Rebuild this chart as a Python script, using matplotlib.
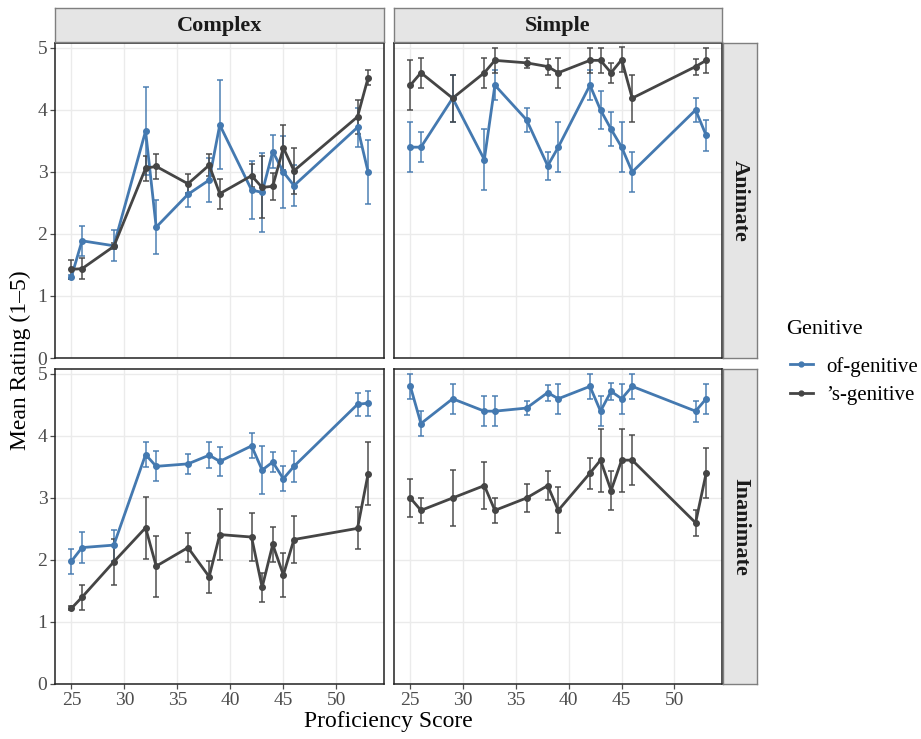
import matplotlib
matplotlib.use("Agg")
import matplotlib.pyplot as plt
from matplotlib.lines import Line2D
import numpy as np

plt.rcParams['font.family'] = ['Liberation Serif', 'DejaVu Serif']

# ---- data ----
scores = [25, 26, 29, 32, 33, 36, 38, 39, 42, 43, 44, 45, 46, 52, 53]
complexity = ["Complex", "Simple"]
animacy = ["Animate", "Inanimate"]
genitives = ["of-genitive", "\u2019s-genitive"]

# Complex / Animate
ca_of_mean = [1.31, 1.89, 1.81, 3.66, 2.11, 2.64, 2.87, 3.76, 2.71, 2.67, 3.33, 3.00, 2.78, 3.72, 3.00]
ca_of_err  = [0.03, 0.24, 0.25, 0.71, 0.44, 0.20, 0.35, 0.72, 0.47, 0.64, 0.27, 0.58, 0.33, 0.31, 0.51]
ca_s_mean  = [1.43, 1.44, 1.80, 3.06, 3.09, 2.81, 3.11, 2.65, 2.94, 2.75, 2.77, 3.39, 3.02, 3.89, 4.52]
ca_s_err   = [0.15, 0.17, 0.05, 0.20, 0.20, 0.15, 0.18, 0.24, 0.19, 0.50, 0.22, 0.36, 0.37, 0.27, 0.12]

# Simple / Animate
sa_of_mean = [3.40, 3.40, 4.19, 3.20, 4.40, 3.84, 3.10, 3.40, 4.40, 4.00, 3.69, 3.40, 3.00, 4.00, 3.59]
sa_of_err  = [0.40, 0.24, 0.38, 0.49, 0.24, 0.19, 0.23, 0.40, 0.24, 0.31, 0.27, 0.40, 0.32, 0.20, 0.25]
sa_s_mean  = [4.40, 4.60, 4.19, 4.60, 4.80, 4.76, 4.70, 4.60, 4.80, 4.80, 4.60, 4.81, 4.19, 4.70, 4.80]
sa_s_err   = [0.40, 0.24, 0.38, 0.24, 0.20, 0.08, 0.13, 0.24, 0.20, 0.20, 0.16, 0.20, 0.38, 0.13, 0.20]

# Complex / Inanimate
ci_of_mean = [1.98, 2.20, 2.24, 3.70, 3.51, 3.55, 3.69, 3.59, 3.84, 3.45, 3.58, 3.31, 3.51, 4.51, 4.53]
ci_of_err  = [0.20, 0.25, 0.25, 0.20, 0.24, 0.16, 0.21, 0.24, 0.20, 0.39, 0.16, 0.20, 0.25, 0.19, 0.20]
ci_s_mean  = [1.22, 1.40, 1.97, 2.52, 1.90, 2.20, 1.73, 2.41, 2.37, 1.56, 2.25, 1.76, 2.33, 2.51, 3.39]
ci_s_err   = [0.03, 0.20, 0.37, 0.50, 0.49, 0.23, 0.26, 0.41, 0.39, 0.23, 0.28, 0.35, 0.38, 0.34, 0.51]

# Simple / Inanimate
si_of_mean = [4.80, 4.20, 4.60, 4.40, 4.40, 4.45, 4.70, 4.60, 4.80, 4.40, 4.72, 4.60, 4.80, 4.40, 4.60]
si_of_err  = [0.20, 0.20, 0.24, 0.24, 0.24, 0.11, 0.13, 0.24, 0.20, 0.24, 0.14, 0.24, 0.20, 0.17, 0.24]
si_s_mean  = [3.00, 2.80, 3.00, 3.20, 2.80, 3.00, 3.20, 2.80, 3.40, 3.61, 3.12, 3.61, 3.61, 2.60, 3.40]
si_s_err   = [0.31, 0.20, 0.45, 0.38, 0.20, 0.22, 0.24, 0.37, 0.25, 0.51, 0.32, 0.51, 0.40, 0.21, 0.40]

x_ticks = [25, 30, 35, 40, 45, 50]
y_ticks = [0, 1, 2, 3, 4, 5]

panels = {
    ("Animate", "Complex"): [(ca_of_mean, ca_of_err), (ca_s_mean, ca_s_err)],
    ("Animate", "Simple"): [(sa_of_mean, sa_of_err), (sa_s_mean, sa_s_err)],
    ("Inanimate", "Complex"): [(ci_of_mean, ci_of_err), (ci_s_mean, ci_s_err)],
    ("Inanimate", "Simple"): [(si_of_mean, si_of_err), (si_s_mean, si_s_err)],
}

colors = ["#4479B0", "#454545"]

W, H = 921, 739
fig = plt.figure(figsize=(W / 100, H / 100), dpi=100)

def rect(x0, y0, x1, y1):
    return [x0 / W, 1 - y1 / H, (x1 - x0) / W, (y1 - y0) / H]

col_x = [(55, 384), (394, 722)]
row_y = [(43, 358), (369, 684)]
strip_top = (8, 42)
strip_right = (723, 757)

tick_color = "#4D4D4D"
grid_color = "#EBEBEB"

for ri, an in enumerate(animacy):
    for ci, cx in enumerate(complexity):
        x0, x1 = col_x[ci]
        y0, y1 = row_y[ri]
        ax = fig.add_axes(rect(x0, y0, x1, y1))
        ax.set_xlim(23.45, 54.5)
        ax.set_ylim(0, 5.08)
        ax.set_xticks(x_ticks)
        ax.set_yticks(y_ticks)
        ax.grid(True, color=grid_color, lw=1.0)
        ax.set_axisbelow(True)
        for sp in ax.spines.values():
            sp.set_color("#222222")
            sp.set_linewidth(1.1)
        ax.tick_params(axis='both', colors=tick_color, length=3.5, width=0.9,
                       labelsize=14, labelcolor=tick_color, pad=2)
        if ci != 0:
            ax.tick_params(axis='y', length=0, labelleft=False)
        if ri != 1:
            ax.tick_params(axis='x', length=0, labelbottom=False)
        for gi, (m, e) in enumerate(panels[(an, cx)]):
            c = colors[gi]
            ax.errorbar(scores, m, yerr=e, fmt='none', ecolor=c, elinewidth=1.3,
                        capsize=2.3, capthick=1.3, alpha=0.8, zorder=2 + gi)
            ax.plot(scores, m, color=c, lw=2.0, zorder=4 + gi)
            ax.plot(scores, m, 'o', color=c, ms=4.0, zorder=6 + gi)

        # top strips
        if ri == 0:
            sax = fig.add_axes(rect(x0, strip_top[0], x1, strip_top[1]))
            sax.set_facecolor("#E5E5E5")
            sax.set_xticks([]); sax.set_yticks([])
            for sp in sax.spines.values():
                sp.set_color("#7F7F7F"); sp.set_linewidth(1.0)
            sax.text(0.5, 0.47, cx, transform=sax.transAxes, ha='center', va='center',
                     fontsize=16, fontweight='bold', color="#1A1A1A")
    # right strips
    y0, y1 = row_y[ri]
    rax = fig.add_axes(rect(strip_right[0], y0, strip_right[1], y1))
    rax.set_facecolor("#E5E5E5")
    rax.set_xticks([]); rax.set_yticks([])
    for sp in rax.spines.values():
        sp.set_color("#7F7F7F"); sp.set_linewidth(1.0)
    rax.text(0.5, 0.5, an, transform=rax.transAxes, ha='center', va='center',
             rotation=-90, fontsize=16, fontweight='bold', color="#1A1A1A")

fig.text(388 / W, 1 - 722 / H, "Proficiency Score", ha='center', va='center',
         fontsize=17, color="black")
fig.text(20 / W, 1 - 360 / H, "Mean Rating (1\u20135)", ha='center', va='center',
         rotation=90, fontsize=17, color="black")

fig.text(786 / W, 1 - 329 / H, "Genitive", ha='left', va='center',
         fontsize=16, color="black")
handles = [Line2D([0], [0], color=c, lw=2.0, marker='o', ms=3.5) for c in colors]
leg = fig.legend(handles, genitives, loc='center left',
                 bbox_to_anchor=(790 / W, 1 - 381 / H), frameon=False,
                 fontsize=15, handlelength=1.1, borderpad=0, borderaxespad=0,
                 handletextpad=0.62, labelspacing=0.42)

fig.savefig("out.png", dpi=100)
